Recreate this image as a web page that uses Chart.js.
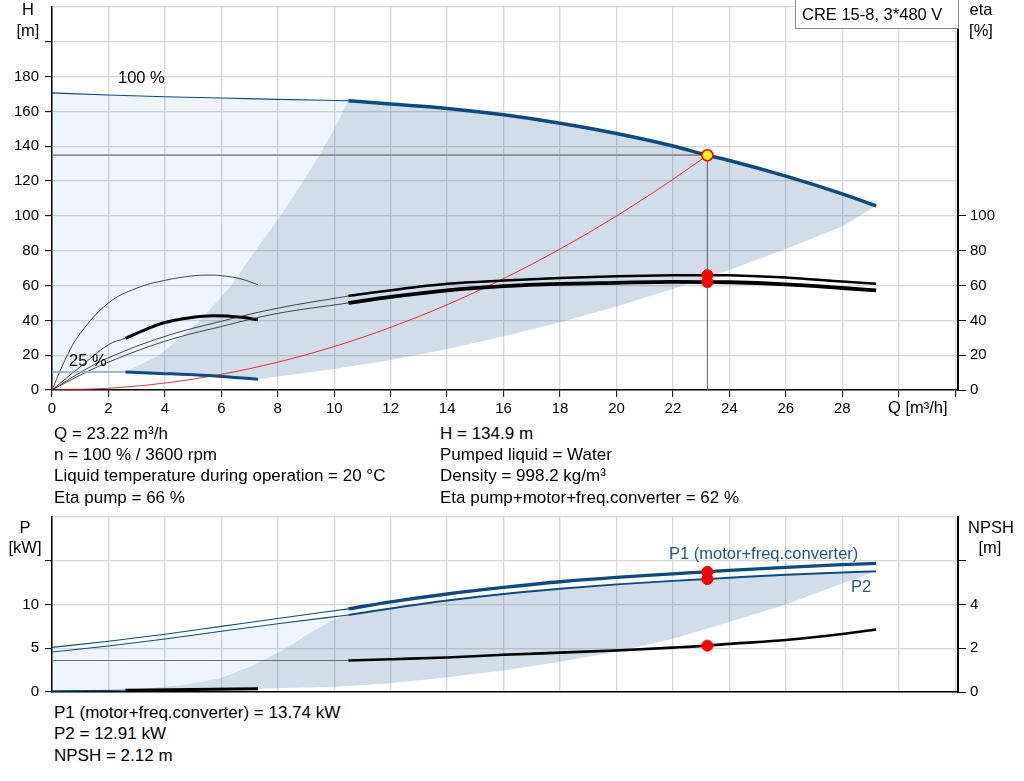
<!DOCTYPE html>
<html>
<head>
<meta charset="utf-8">
<script src="https://cdn.jsdelivr.net/npm/chart.js@4.4.1/dist/chart.umd.min.js"></script>
<style>
  html, body { margin: 0; padding: 0; background: #fff; }
  body { width: 1024px; height: 781px; position: relative; overflow: hidden;
         font-family: Arial, "Liberation Sans", sans-serif; color: #000; }
  canvas { position: absolute; left: 0; }
  .t { position: absolute; white-space: nowrap; font-size: 17px; line-height: 20px; }
  .s { font-size: 16.5px; }
  .c { text-align: center; width: 80px; }
  .blue { color: #1d5592; }
  #typeBox { position: absolute; left: 795px; top: -1px; width: 162px; height: 28px;
             border: 1px solid #8a8a8a; background: #fff; }
</style>
</head>
<body>
<canvas id="qhChart" width="1024" height="420" style="top:0"></canvas>
<canvas id="powerChart" width="1024" height="195" style="top:505px"></canvas>

<!-- axis titles -->
<div class="t s c" style="left:-12px;top:-1px">H</div>
<div class="t s c" style="left:-12px;top:20px">[m]</div>
<div class="t s c" style="left:941px;top:-1px">eta</div>
<div class="t s c" style="left:941px;top:20px">[%]</div>
<div class="t s" style="left:888px;top:397px">Q [m³/h]</div>
<div class="t s c" style="left:-15px;top:517px">P</div>
<div class="t s c" style="left:-15px;top:537px">[kW]</div>
<div class="t s c" style="left:951px;top:517px">NPSH</div>
<div class="t s c" style="left:950px;top:537px">[m]</div>

<!-- labels inside the plots -->
<div id="typeBox"><div class="t s" style="left:6px;top:4px">CRE 15-8, 3*480 V</div></div>
<div class="t s" style="left:118px;top:67px">100 %</div>
<div class="t s" style="left:69px;top:350px">25 %</div>
<div class="t s blue" style="left:669px;top:543px">P1 (motor+freq.converter)</div>
<div class="t s blue" style="left:851px;top:576px">P2</div>

<!-- duty point text -->
<div class="t" style="left:54px;top:424px">Q = 23.22 m³/h</div>
<div class="t" style="left:54px;top:445px">n = 100 % / 3600 rpm</div>
<div class="t" style="left:54px;top:466px">Liquid temperature during operation = 20 °C</div>
<div class="t" style="left:54px;top:488px">Eta pump = 66 %</div>
<div class="t" style="left:440px;top:424px">H = 134.9 m</div>
<div class="t" style="left:440px;top:445px">Pumped liquid = Water</div>
<div class="t" style="left:440px;top:466px">Density = 998.2 kg/m³</div>
<div class="t" style="left:440px;top:488px">Eta pump+motor+freq.converter = 62 %</div>
<div class="t" style="left:54px;top:703px">P1 (motor+freq.converter) = 13.74 kW</div>
<div class="t" style="left:54px;top:724px">P2 = 12.91 kW</div>
<div class="t" style="left:54px;top:746px">NPSH = 2.12 m</div>

<script>
/* ---------------------------------------------------------
   Data (Q in m3/h)
--------------------------------------------------------- */
// Q-H at 100 % speed: thin part below min flow, thick part in range
const qH100Thin = [0, 2, 4, 6, 8, 10.5];
const hH100Thin = [170.7, 169.5, 168.5, 167.8, 167.0, 166.2];
const qH100 = [10.5, 12, 14, 16, 18, 20, 22, 23.22, 24, 26, 28, 29.2];
const hH100 = [166.2, 164.3, 161.8, 158.1, 153.3, 147.4, 140.2, 134.9, 131.9, 122.9, 112.7, 105.8];

// Q-H at 25 % speed
const qH25Thin = [0, 1.3, 2.6];
const hH25Thin = [10.4, 10.4, 10.3];
const qH25 = [2.6, 4, 5, 6, 7.3];
const hH25 = [10.3, 9.4, 8.7, 7.8, 6.2];

// operating range edges (min flow / max flow)
const qMinEdge = [2.6, 3.8, 4.55, 5.25, 6.35, 7.2, 8.1, 8.9, 9.48, 10.0, 10.5];
const hMinEdge = [10.3, 20, 30, 40, 60, 80, 100, 120, 135, 150, 166.2];
const qMaxEdge = [7.3, 10, 12, 14, 16, 18, 20, 22, 24, 26, 28, 29.2];
const hMaxEdge = [6.2, 12, 17.3, 23.5, 30.7, 38.9, 48, 58, 69, 81, 94, 105.8];

// system curve through the duty point
const qSystem = [0, 2, 4, 6, 8, 10, 12, 14, 16, 18, 20, 22, 23.22];
const hSystem = [0, 1, 4, 9, 16, 25, 36, 49, 64, 81, 100, 121, 134.9];

// efficiency [%], 100 % speed
const qEtaThin = [0, 1, 2, 4, 6, 8, 10.5];
const etaPumpThin = [0, 10, 18.5, 30.8, 39.5, 47, 54];
const etaTotalThin = [0, 8.5, 16, 28, 36.5, 44, 50];
const qEta = [10.5, 12, 14, 16, 18, 20, 22, 23.22, 24, 26, 28, 29.2];
const etaPump = [54, 57.3, 61, 62.9, 64.4, 65.3, 65.9, 66, 65.9, 64.6, 62.3, 61];
const etaTotal = [50, 53.5, 57.3, 59.7, 61, 61.6, 62.1, 62, 61.9, 60.7, 58.6, 57.2];

// efficiency [%], 25 % speed
const qEta25Pump = [0, 0.5, 1, 2, 3, 4, 5, 5.6, 6, 6.7, 7.3];
const eta25Pump = [0, 18.5, 32.5, 50, 58.5, 63, 65.6, 66, 65.7, 63.8, 60.5];
const qEta25TotalThin = [0, 1, 2, 2.6];
const eta25TotalThin = [0, 13.3, 26, 29.7];
const qEta25Total = [2.6, 3.5, 4, 4.9, 5.7, 6.7, 7.3];
const eta25Total = [29.7, 36, 38.8, 41.5, 42.6, 41.8, 40.3];

// power [kW]
const qPThin = [0, 2, 4, 6, 8, 10.5];
const p1Thin = [5.1, 5.8, 6.6, 7.5, 8.4, 9.5];
const p2Thin = [4.57, 5.25, 6.05, 6.95, 7.8, 8.8];
const qP = [10.5, 12, 14, 16, 18, 20, 22, 23.22, 24, 26, 28, 29.2];
const p1 = [9.5, 10.3, 11.2, 11.95, 12.6, 13.1, 13.5, 13.74, 13.9, 14.25, 14.55, 14.7];
const p2 = [8.8, 9.55, 10.45, 11.2, 11.8, 12.3, 12.7, 12.91, 13.05, 13.4, 13.65, 13.8];
const qP25Thin = [0, 2.6];
const p25Thin = [0.12, 0.2];
const qP25 = [2.6, 5, 7.3];
const p25 = [0.2, 0.28, 0.36];
const qPMinEdge = [2.6, 4.65, 5.96, 7.02, 8.2, 9.15, 10.0, 10.5];
const pMinEdge = [0.2, 0.8, 1.57, 2.9, 4.84, 6.76, 8.3, 8.8];
const qPMaxEdge = [7.3, 10, 12, 14, 16, 18, 20, 22, 24, 26, 28, 29.2];
const pMaxEdge = [0.36, 0.6, 1.0, 1.7, 2.45, 3.45, 4.6, 6.1, 8.0, 10.0, 12.4, 13.8];

// NPSH [m]
const qNpshThin = [0, 10.5];
const npshThin = [1.44, 1.44];
const qNpsh = [10.5, 12, 14, 16, 18, 20, 22, 23.22, 24, 26, 28, 29.2];
const npsh = [1.44, 1.5, 1.58, 1.7, 1.8, 1.9, 2.03, 2.12, 2.2, 2.38, 2.65, 2.86];

// duty point
const qDuty = 23.22;
const hDuty = 134.9;
const etaPumpDuty = 66;
const etaTotalDuty = 62;
const p1Duty = 13.74;
const p2Duty = 12.91;
const npshDuty = 2.12;

// axis ticks
const qTicks = [0, 2, 4, 6, 8, 10, 12, 14, 16, 18, 20, 22, 24, 26, 28, 30, 32];
const qTickMax = 28;
const hTickMax = 180;
const etaTicks = [0, 20, 40, 60, 80, 100];
const pTickMax = 10;
const npshTicks = [0, 2, 4, 6];

/* ---------------------------------------------------------
   Helpers
--------------------------------------------------------- */
const FONT = 'Arial, "Liberation Sans", sans-serif';
const BLUE = "#0d4a85";
const GRID = "#d8d8d8";

const pts = (qs, vs) => qs.map((q, i) => ({ x: q, y: vs[i] }));
const rev = (a) => a.slice().reverse();

function curve(data, color, width, extra) {
  return Object.assign({
    data, borderColor: color, borderWidth: width, pointRadius: 0,
    fill: false, cubicInterpolationMode: "monotone",
  }, extra || {});
}
// softer bezier for the thin part-load curves (monotone gives corners there)
const soft = (extra) => Object.assign({ cubicInterpolationMode: "default", tension: 0.4 }, extra);
function straight(data, color, width, extra) {
  return Object.assign({
    data, borderColor: color, borderWidth: width, pointRadius: 0, fill: false, tension: 0,
  }, extra || {});
}
function marker(x, y, extra) {
  return Object.assign({
    data: [{ x, y }], showLine: false, pointRadius: 5.5, pointHoverRadius: 5.5,
    pointBackgroundColor: "#ff0000", pointBorderColor: "#ff0000", pointBorderWidth: 1,
  }, extra || {});
}
function area(data, color, extra) {
  return Object.assign({
    data, borderWidth: 0, borderColor: "transparent", pointRadius: 0,
    backgroundColor: color, fill: "shape", tension: 0,
  }, extra || {});
}
const noPad = (s) => { s.paddingTop = 0; s.paddingBottom = 0; s.paddingLeft = 0; s.paddingRight = 0; };
const setQTicks = (s) => { s.ticks = qTicks.map((v) => ({ value: v })); };
const tickFont = { family: FONT, size: 15 };

Chart.defaults.font.family = FONT;
Chart.defaults.animation = false;

const LIGHT_FILL = "rgba(30,120,230,0.075)";
const DARK_FILL = "rgba(11,74,134,0.19)";

/* ---------------------------------------------------------
   Q-H / eta chart
--------------------------------------------------------- */
const hLight = pts(qH100Thin, hH100Thin)
  .concat(rev(pts(qMinEdge, hMinEdge)))
  .concat(rev(pts(qH25Thin, hH25Thin)));
const hDark = pts(qMinEdge, hMinEdge)
  .concat(pts(qH100, hH100))
  .concat(rev(pts(qMaxEdge, hMaxEdge)))
  .concat(rev(pts(qH25, hH25)));

new Chart(document.getElementById("qhChart"), {
  type: "line",
  data: {
    datasets: [
      marker(qDuty, hDuty, { pointRadius: 5.5, pointBackgroundColor: "#ffff00", pointBorderColor: "#ff0000", pointBorderWidth: 1.6 }),
      marker(qDuty, etaPumpDuty, { yAxisID: "y2" }),
      marker(qDuty, etaTotalDuty, { yAxisID: "y2" }),
      curve(pts(qH100, hH100), BLUE, 3.5),
      curve(pts(qH100Thin, hH100Thin), BLUE, 1.1),
      curve(pts(qH25, hH25), BLUE, 3),
      curve(pts(qH25Thin, hH25Thin), "#8fa5ba", 1.5),
      curve(pts(qEta, etaTotal), "#000", 3.8, { yAxisID: "y2" }),
      curve(pts(qEta, etaPump), "#000", 2.5, { yAxisID: "y2" }),
      curve(pts(qEtaThin, etaTotalThin), "#333", 0.9, soft({ yAxisID: "y2" })),
      curve(pts(qEtaThin, etaPumpThin), "#333", 0.9, soft({ yAxisID: "y2" })),
      curve(pts(qEta25Total, eta25Total), "#000", 3, { yAxisID: "y2" }),
      curve(pts(qEta25TotalThin, eta25TotalThin), "#333", 0.9, soft({ yAxisID: "y2" })),
      curve(pts(qEta25Pump, eta25Pump), "#333", 0.9, soft({ yAxisID: "y2" })),
      curve(pts(qSystem, hSystem), "rgba(255,0,0,0.8)", 1),
      straight([{ x: qDuty, y: hDuty }, { x: qDuty, y: 0 }], "#6a6a6a", 1.1),
      straight([{ x: 0, y: hDuty }, { x: qDuty, y: hDuty }], "#8c8c8c", 1.8),
      area(hDark, DARK_FILL),
      area(hLight, LIGHT_FILL),
    ],
  },
  options: {
    responsive: false,
    animation: false,
    events: [],
    layout: { padding: { top: 1, left: 0, right: 0, bottom: 0 } },
    plugins: { legend: { display: false }, tooltip: { enabled: false } },
    scales: {
      x: {
        type: "linear", min: 0, max: 32.1,
        afterBuildTicks: setQTicks,
        ticks: {
          autoSkip: false, maxRotation: 0, padding: 3, color: "#000", font: tickFont,
          callback: (v) => (v <= qTickMax ? v : ""),
        },
        grid: { color: GRID, lineWidth: 1.3, tickColor: "#000", tickLength: 7, tickWidth: 1 },
        border: { color: "#000", width: 1.5 },
        afterFit: (s) => { s.height = 30; noPad(s); },
      },
      y: {
        position: "left", min: 0, max: 220,
        ticks: {
          stepSize: 20, padding: 6, color: "#000", font: tickFont,
          callback: (v) => (v <= hTickMax ? v : ""),
        },
        grid: {
          color: GRID, lineWidth: 1.3, tickLength: 7, tickWidth: 1,
          tickColor: (c) => (c.tick && c.tick.value > 200 ? "rgba(0,0,0,0)" : "#000"),
        },
        border: { color: "#000", width: 1.5 },
        afterFit: (s) => { s.width = 52; noPad(s); },
      },
      y2: {
        position: "right", min: 0, max: 220,
        afterBuildTicks: (s) => { s.ticks = etaTicks.map((v) => ({ value: v })); },
        ticks: { padding: 4, color: "#000", font: tickFont },
        grid: { drawOnChartArea: false, tickColor: "#000", tickLength: 8, tickWidth: 1 },
        border: { color: "#000", width: 2 },
        afterFit: (s) => { s.width = 66; noPad(s); },
      },
    },
  },
});

/* ---------------------------------------------------------
   Power / NPSH chart
--------------------------------------------------------- */
const pLight = pts(qPThin, p2Thin)
  .concat(rev(pts(qPMinEdge, pMinEdge)))
  .concat(rev(pts(qP25Thin, p25Thin)));
const pDark = pts(qPMinEdge, pMinEdge)
  .concat(pts(qP, p2))
  .concat(rev(pts(qPMaxEdge, pMaxEdge)))
  .concat(rev(pts(qP25, p25)));

new Chart(document.getElementById("powerChart"), {
  type: "line",
  data: {
    datasets: [
      marker(qDuty, p1Duty),
      marker(qDuty, p2Duty),
      marker(qDuty, npshDuty, { yAxisID: "y2" }),
      curve(pts(qP, p1), BLUE, 3.3),
      curve(pts(qP, p2), BLUE, 2),
      curve(pts(qPThin, p1Thin), BLUE, 1.1),
      curve(pts(qPThin, p2Thin), BLUE, 1.1),
      curve(pts(qP25, p25), "#000", 3),
      curve(pts(qP25Thin, p25Thin), BLUE, 1.2),
      curve(pts(qNpsh, npsh), "#000", 2.6, { yAxisID: "y2" }),
      straight(pts(qNpshThin, npshThin), "#6e6e6e", 1.2, { yAxisID: "y2" }),
      area(pDark, DARK_FILL),
      area(pLight, LIGHT_FILL),
    ],
  },
  options: {
    responsive: false,
    animation: false,
    events: [],
    layout: { padding: { top: 12, left: 0, right: 0, bottom: 0 } },
    plugins: { legend: { display: false }, tooltip: { enabled: false } },
    scales: {
      x: {
        type: "linear", min: 0, max: 32.1,
        afterBuildTicks: setQTicks,
        ticks: { display: false },
        grid: { color: GRID, lineWidth: 1.3, drawTicks: false },
        border: { color: "#000", width: 1.5 },
        afterFit: (s) => { s.height = 8; noPad(s); },
      },
      y: {
        position: "left", min: 0, max: 20,
        ticks: {
          stepSize: 5, padding: 6, color: "#000", font: tickFont,
          callback: (v) => (v <= pTickMax ? v : ""),
        },
        grid: {
          color: GRID, lineWidth: 1.3, tickLength: 7, tickWidth: 1,
          tickColor: (c) => (c.tick && c.tick.value > 15 ? "rgba(0,0,0,0)" : "#000"),
        },
        border: { color: "#000", width: 1.5 },
        afterFit: (s) => { s.width = 52; noPad(s); },
      },
      y2: {
        position: "right", min: 0, max: 8,
        afterBuildTicks: (s) => { s.ticks = npshTicks.map((v) => ({ value: v })); },
        ticks: { padding: 4, color: "#000", font: tickFont, callback: (v) => (v <= 4 ? v : "") },
        grid: { drawOnChartArea: false, tickColor: "#000", tickLength: 8, tickWidth: 1 },
        border: { color: "#000", width: 2 },
        afterFit: (s) => { s.width = 66; noPad(s); },
      },
    },
  },
});
</script>
</body>
</html>
